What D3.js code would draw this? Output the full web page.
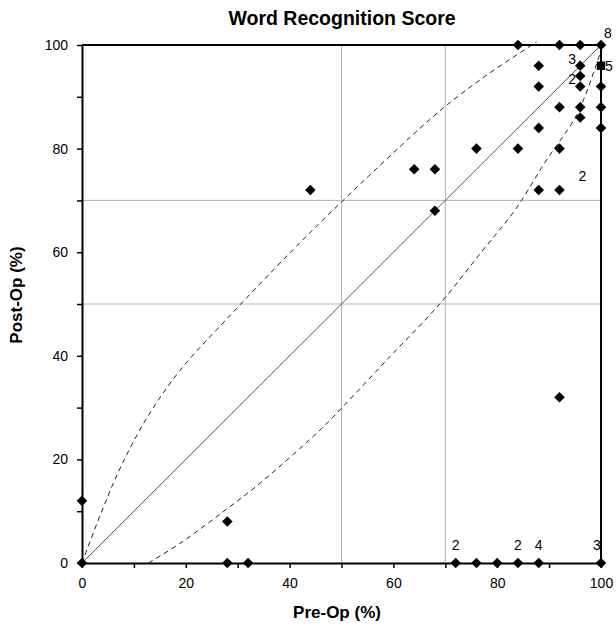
<!DOCTYPE html>
<html>
<head>
<meta charset="utf-8">
<script src="https://cdn.jsdelivr.net/npm/d3@7"></script>
<style>
  body { margin: 0; background: #fff; }
  svg { font-family: "Liberation Sans", Arial, Helvetica, sans-serif; }
  .axis text { font-size: 14px; fill: #000; }
  .axis path { stroke: #000; stroke-width: 2; }
  .axis line { stroke: #000; stroke-width: 1.5; }
</style>
</head>
<body>
<svg id="chart" width="616" height="626"></svg>
<script>
const WIDTH = 616
const HEIGHT = 626

// individual patients (pre-op %, post-op %)
const preOp  = [0, 0, 28, 28, 32, 44, 64, 68, 68, 76, 84, 84, 88, 88, 88, 88, 92, 92, 92, 92, 92, 96, 96, 96, 96, 96, 96, 100, 100, 100, 100, 72, 76, 80, 84, 88, 100];
const postOp = [0, 12, 0, 8, 0, 72, 76, 76, 68, 80, 100, 80, 96, 92, 84, 72, 100, 88, 80, 72, 32, 100, 96, 94, 92, 88, 86, 100, 92, 88, 84, 0, 0, 0, 0, 0, 0];

// the one square marker
const squarePre = [100];
const squarePost = [96];

// number of overlapping patients written next to some points
const countPre  = [100, 96, 100, 96, 96.4, 72, 84, 88, 100];
const countPost = [100, 96, 96, 92, 74.7, 0, 0, 0, 0];
const countText = ['8', '3', '5', '2', '2', '2', '2', '4', '3'];
const countSide = ['aboveright', 'left', 'right', 'left', 'center', 'above', 'above', 'above', 'aboveleft'];

// dashed critical-difference limits
const upperPre  = [0, 3.5, 7.3, 12.5, 18.9, 27.6, 40.1, 50, 65.1, 70.3, 78, 87.6];
const upperPost = [0, 9.2, 18.2, 28, 37.2, 46.8, 59.9, 69.7, 83.9, 88.4, 94.2, 100.6];
const lowerPre  = [12.8, 18.9, 27.2, 34.3, 46.2, 50.3, 59.3, 69, 77, 83.4, 89.5, 95.3, 99.2, 100];
const lowerPost = [0, 3.8, 9.9, 15.4, 26, 30.2, 39.8, 50.1, 60.1, 68.1, 77.8, 86.5, 96.5, 99];

const diagPre = [0, 100];
const diagPost = [0, 100];

const gridPre = [50, 70];
const gridPost = [50, 70];

const xTicks = d3.range(0, 101, 10);
const yTicks = d3.range(0, 101, 10);

let padding = { left: 82, right: 15, top: 45, bottom: 63 };

const svg = d3.select('#chart');

const x = d3.scaleLinear()
    .domain([0, 100])
    .range([padding.left, WIDTH - padding.right]);

const y = d3.scaleLinear()
    .domain([0, 100])
    .range([HEIGHT - padding.bottom, padding.top]);

// grid
svg.append('g')
    .selectAll('line')
    .data(gridPre)
    .join('line')
    .attr('x1', d => x(d)).attr('x2', d => x(d))
    .attr('y1', y(0)).attr('y2', y(100))
    .attr('stroke', '#b5b5b5').attr('stroke-width', 1);

svg.append('g')
    .selectAll('line')
    .data(gridPost)
    .join('line')
    .attr('y1', d => y(d)).attr('y2', d => y(d))
    .attr('x1', x(0)).attr('x2', x(100))
    .attr('stroke', '#b5b5b5').attr('stroke-width', 1);

// diagonal and limits
const line = d3.line().x(d => x(d[0])).y(d => y(d[1]));

svg.append('path')
    .attr('d', line(d3.zip(diagPre, diagPost)))
    .attr('fill', 'none').attr('stroke', '#555').attr('stroke-width', 1);

const curve = d3.line().x(d => x(d[0])).y(d => y(d[1])).curve(d3.curveCatmullRom.alpha(0.5));

svg.selectAll('.limit')
    .data([d3.zip(upperPre, upperPost), d3.zip(lowerPre, lowerPost)])
    .join('path')
    .attr('class', 'limit')
    .attr('d', d => curve(d))
    .attr('fill', 'none')
    .attr('stroke', '#222')
    .attr('stroke-width', 1)
    .attr('stroke-dasharray', '5,4');

// count labels (drawn before the frame so the last one tucks under it)
const offsets = {
    aboveright: [7, -7], left: [-8, -2], right: [8, 5], center: [0, 5],
    above: [0, -13], aboveleft: [-4, -13]
};
svg.append('g')
    .selectAll('text')
    .data(countText)
    .join('text')
    .attr('x', (d, i) => x(countPre[i]) + offsets[countSide[i]][0])
    .attr('y', (d, i) => y(countPost[i]) + offsets[countSide[i]][1])
    .attr('text-anchor', 'middle')
    .attr('font-size', 14)
    .text(d => d);

// axes
svg.append('g')
    .attr('class', 'axis')
    .attr('transform', `translate(0, ${y(0)})`)
    .call(d3.axisBottom(x).tickValues(xTicks).tickSize(5).tickSizeOuter(0).tickPadding(10)
        .tickFormat(d => d % 20 === 0 ? d : ''));

svg.append('g')
    .attr('class', 'axis')
    .attr('transform', `translate(${x(0)}, 0)`)
    .call(d3.axisLeft(y).tickValues(yTicks).tickSize(5).tickSizeOuter(0).tickPadding(9)
        .tickFormat(d => d % 20 === 0 ? d : ''));

// top and right frame
svg.append('path')
    .attr('d', `M${x(0)},${y(100)}H${x(100)}V${y(0)}`)
    .attr('fill', 'none').attr('stroke', '#000').attr('stroke-width', 2);

// points
const diamond = d3.symbol(d3.symbolSquare, 56);
svg.append('g')
    .selectAll('path')
    .data(d3.zip(preOp, postOp))
    .join('path')
    .attr('d', diamond)
    .attr('transform', d => `translate(${x(d[0])}, ${y(d[1])}) rotate(45)`)
    .attr('fill', '#000');

svg.append('g')
    .selectAll('path')
    .data(d3.zip(squarePre, squarePost))
    .join('path')
    .attr('d', d3.symbol(d3.symbolSquare, 70))
    .attr('transform', d => `translate(${x(d[0])}, ${y(d[1])})`)
    .attr('fill', '#000');

// titles
svg.append('text')
    .text('Word Recognition Score')
    .attr('x', 342).attr('y', 25)
    .attr('text-anchor', 'middle')
    .attr('font-size', 19.5).attr('font-weight', 'bold');

svg.append('text')
    .text('Pre-Op (%)')
    .attr('x', 337).attr('y', 618)
    .attr('text-anchor', 'middle')
    .attr('font-size', 17).attr('font-weight', 'bold');

svg.append('text')
    .text('Post-Op (%)')
    .attr('transform', 'translate(22, 295) rotate(-90)')
    .attr('text-anchor', 'middle')
    .attr('font-size', 17).attr('font-weight', 'bold');
</script>
</body>
</html>
